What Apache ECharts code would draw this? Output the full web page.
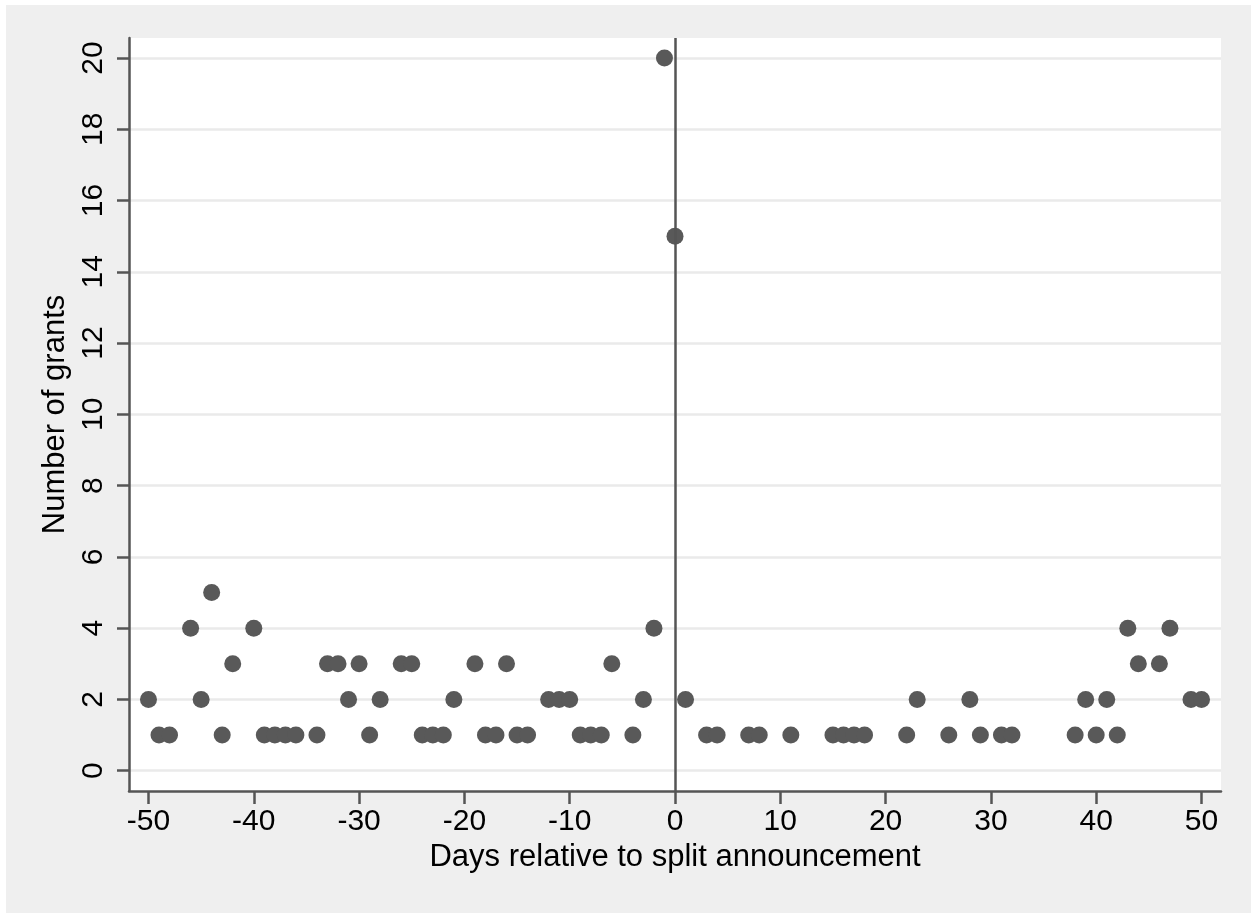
<!DOCTYPE html>
<html>
<head>
<meta charset="utf-8">
<script src="https://cdn.jsdelivr.net/npm/echarts@6/dist/echarts.min.js"></script>
<style>
  html, body { margin: 0; padding: 0; background: #fff; }
  #chart { position: absolute; left: 6px; top: 5px; width: 1245px; height: 908px; }
</style>
</head>
<body>
<div id="chart"></div>
<script>
// dias relativos al anuncio y numero de grants
const days = [-50, -49, -48, -46, -45, -44, -43, -42, -40, -39, -38, -37, -36, -34, -33, -32, -31, -30,
  -29, -28, -26, -25, -24, -23, -22, -21, -19, -18, -17, -16, -15, -14, -12, -11, -10, -9, -8, -7,
  -6, -4, -3, -2, -1, 0, 1, 3, 4, 7, 8, 11, 15, 16, 17, 18, 22, 23, 26, 28, 29, 31, 32, 38, 39, 40,
  41, 42, 43, 44, 46, 47, 49, 50];
const grants = [2, 1, 1, 4, 2, 5, 1, 3, 4, 1, 1, 1, 1, 1, 3, 3, 2, 3,
  1, 2, 3, 3, 1, 1, 1, 2, 3, 1, 1, 3, 1, 1, 2, 2, 2, 1, 1, 1,
  3, 1, 2, 4, 20, 15, 2, 1, 1, 1, 1, 1, 1, 1, 1, 1, 1, 2, 1, 2, 1, 1, 1, 1, 2, 1,
  2, 1, 4, 3, 3, 4, 2, 2];
const xTicks = [-50, -40, -30, -20, -10, 0, 10, 20, 30, 40, 50];
const yTicks = [0, 2, 4, 6, 8, 10, 12, 14, 16, 18, 20];
const refLine = [0];

const myChart = echarts.init(document.getElementById('chart'));
const font = 'Liberation Sans, Arial, sans-serif';
const dark = '#555555';

const option = {
  backgroundColor: '#efefef',
  animation: false,
  grid: {
    left: 123, top: 33, width: 1092, height: 753,
    show: true, backgroundColor: '#ffffff', borderWidth: 0
  },
  xAxis: {
    type: 'value',
    min: -51.85, max: 51.85,
    name: 'Days relative to split announcement',
    nameLocation: 'middle',
    nameGap: 50,
    nameTextStyle: { fontFamily: font, fontSize: 31, color: '#000' },
    axisLine: { onZero: false, lineStyle: { color: dark, width: 2.5 } },
    axisTick: { customValues: xTicks, length: 13, lineStyle: { color: dark, width: 2.5 } },
    axisLabel: { customValues: xTicks, margin: 16, fontFamily: font, fontSize: 30, color: '#000' },
    splitLine: { show: false }
  },
  yAxis: {
    type: 'value',
    min: -0.57, max: 20.56,
    name: 'Number of grants',
    nameLocation: 'middle',
    nameGap: 56,
    nameTextStyle: { fontFamily: font, fontSize: 31, color: '#000' },
    axisLine: { show: true, onZero: false, lineStyle: { color: dark, width: 2.5 } },
    axisTick: { show: true, customValues: yTicks, length: 12, lineStyle: { color: dark, width: 2.5 } },
    axisLabel: { customValues: yTicks, rotate: 90, margin: 20, fontFamily: font, fontSize: 30, color: '#000' },
    splitLine: { show: true, lineStyle: { color: '#eaeaea', width: 2.5 } }
  },
  series: [{
    type: 'scatter',
    data: days.map((d, i) => [d, grants[i]]),
    symbol: 'circle',
    symbolSize: 17,
    itemStyle: { color: '#595959', opacity: 1 },
    markLine: {
      silent: true,
      symbol: ['none', 'none'],
      label: { show: false },
      lineStyle: { color: dark, width: 2.5, type: 'solid' },
      data: refLine.map(v => ({ xAxis: v }))
    }
  }]
};
myChart.setOption(option);
</script>
</body>
</html>
